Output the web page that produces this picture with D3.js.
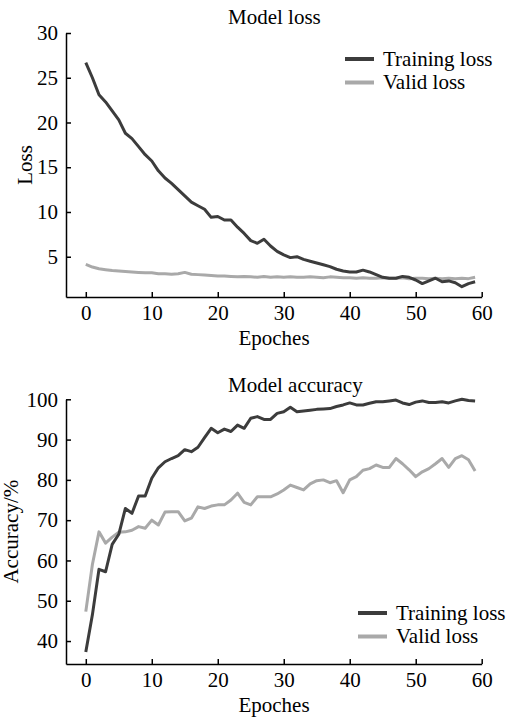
<!DOCTYPE html>
<html>
<head>
<meta charset="utf-8">
<script src="https://cdn.jsdelivr.net/npm/d3@7"></script>
<style>
	body { margin: 0; background: #fff; }
	svg text { font-family: "Liberation Serif", "Times New Roman", serif; font-size: 21px; fill: #000; }
</style>
</head>
<body>
<div id="chart"></div>
<script>
// epochs 0..59
var epochs = d3.range( 0, 60 );

var trainLoss = [ 26.7, 25.0, 23.1, 22.3, 21.3, 20.3, 18.8, 18.2, 17.3, 16.4,
	15.7, 14.6, 13.8, 13.2, 12.5, 11.8, 11.1, 10.7, 10.3, 9.4,
	9.5, 9.1, 9.1, 8.3, 7.6, 6.8, 6.5, 6.95, 6.2, 5.6,
	5.2, 4.9, 5.0, 4.7, 4.5, 4.3, 4.1, 3.9, 3.6, 3.4,
	3.3, 3.3, 3.5, 3.3, 3.0, 2.7, 2.6, 2.6, 2.8, 2.7,
	2.4, 2.0, 2.3, 2.6, 2.2, 2.3, 2.1, 1.65, 2.0, 2.2 ];

var validLoss = [ 4.15, 3.85, 3.65, 3.55, 3.45, 3.4, 3.35, 3.3, 3.25, 3.2,
	3.2, 3.1, 3.1, 3.05, 3.1, 3.25, 3.05, 3.0, 2.95, 2.9,
	2.85, 2.85, 2.8, 2.75, 2.8, 2.75, 2.7, 2.8, 2.7, 2.75,
	2.7, 2.75, 2.7, 2.7, 2.75, 2.7, 2.65, 2.75, 2.7, 2.65,
	2.65, 2.6, 2.65, 2.6, 2.6, 2.65, 2.6, 2.6, 2.65, 2.55,
	2.6, 2.6, 2.55, 2.6, 2.55, 2.6, 2.55, 2.6, 2.55, 2.7 ];

var trainAcc = [ 37.3, 46.5, 57.8, 57.2, 64, 66.5, 72.9, 71.7, 76, 76,
	80.4, 83, 84.5, 85.3, 86, 87.5, 87, 88.1, 90.5, 92.8,
	91.7, 92.6, 92, 93.6, 92.8, 95.3, 95.7, 95, 95, 96.5,
	96.9, 98, 96.9, 97.1, 97.3, 97.5, 97.6, 97.7, 98.2, 98.6,
	99.1, 98.6, 98.6, 99.0, 99.4, 99.4, 99.6, 99.8, 99.1, 98.7,
	99.3, 99.6, 99.2, 99.2, 99.4, 99.1, 99.6, 100, 99.7, 99.6 ];

var validAcc = [ 47.3, 59, 67.1, 64.3, 65.8, 67, 67.1, 67.5, 68.4, 68,
	70, 68.8, 72, 72.1, 72.1, 69.8, 70.5, 73.3, 72.9, 73.5,
	73.8, 73.8, 75, 76.7, 74.4, 73.8, 75.8, 75.8, 75.8, 76.5,
	77.5, 78.7, 78.1, 77.5, 79, 79.8, 80, 79.3, 79.8, 76.8,
	80, 80.8, 82.4, 82.8, 83.7, 83.1, 83.1, 85.3, 84, 82.5,
	80.8, 82, 82.8, 84, 85.3, 83.1, 85.3, 86, 85, 82.2 ];

var xTicks = [ 0, 10, 20, 30, 40, 50, 60 ];
var lossTicks = [ 5, 10, 15, 20, 25, 30 ];
var accTicks = [ 40, 50, 60, 70, 80, 90, 100 ];
var seriesNames = [ "Training loss", "Valid loss" ];
var seriesColors = [ "#3c3c3c", "#a9a9a9" ];

var svg = d3.select( "#chart" ).append( "svg" )
	.attr( "width", 513 )
	.attr( "height", 720 );

function drawPanel( opt )
{
	var g = svg.append( "g" );

	var x = d3.scaleLinear().domain( [ -3, 60 ] ).range( [ 66, 481.7 ] );
	var y = d3.scaleLinear().domain( opt.yDomain ).range( [ opt.bottom, opt.top ] );

	// lines first, axes drawn on top
	var line = d3.line()
		.x( function ( d, i ) { return x( epochs[ i ] ); } )
		.y( function ( d ) { return y( d ); } );

	[ opt.valid, opt.train ].forEach( function ( s, k )
	{
		g.append( "path" )
			.datum( s )
			.attr( "fill", "none" )
			.attr( "stroke", k === 0 ? seriesColors[ 1 ] : seriesColors[ 0 ] )
			.attr( "stroke-width", 3 )
			.attr( "stroke-linejoin", "round" )
			.attr( "d", line );
	} );

	var xAxis = g.append( "g" )
		.attr( "transform", "translate(0," + opt.bottom + ")" )
		.call( d3.axisBottom( x ).tickValues( xTicks ).tickSize( -5 ).tickSizeOuter( 0 ).tickPadding( 8 ) );

	var yAxis = g.append( "g" )
		.attr( "transform", "translate(66,0)" )
		.call( d3.axisLeft( y ).tickValues( opt.yTicks ).tickSize( -5 ).tickSizeOuter( 0 ).tickPadding( 8 ) );

	[ xAxis, yAxis ].forEach( function ( a )
	{
		a.attr( "font-family", null ).attr( "font-size", null );
		a.selectAll( "path, line" ).attr( "stroke", "#000" ).attr( "stroke-width", 1.5 );
		a.selectAll( "text" ).attr( "fill", "#000" );
	} );

	// titles and axis labels
	g.append( "text" )
		.attr( "x", 228 )
		.attr( "y", opt.titleY )
		.text( opt.title );

	g.append( "text" )
		.attr( "x", 274 )
		.attr( "y", opt.bottom + 48 )
		.attr( "text-anchor", "middle" )
		.text( "Epoches" );

	g.append( "text" )
		.attr( "transform", "translate(" + opt.yLabelX + "," + ( ( opt.top + opt.bottom ) / 2 ) + ") rotate(-90)" )
		.attr( "text-anchor", "middle" )
		.text( opt.yLabel );

	// legend
	var lg = g.append( "g" ).attr( "transform", "translate(" + opt.legend[ 0 ] + "," + opt.legend[ 1 ] + ")" );
	seriesNames.forEach( function ( name, i )
	{
		lg.append( "line" )
			.attr( "x1", 0 ).attr( "x2", 29 )
			.attr( "y1", i * 23.5 ).attr( "y2", i * 23.5 )
			.attr( "stroke", seriesColors[ i ] )
			.attr( "stroke-width", 4 );
		lg.append( "text" )
			.attr( "x", 38 )
			.attr( "y", i * 23.5 + 6.5 )
			.text( name );
	} );
}

drawPanel( {
	title: "Model loss",
	titleY: 24,
	yLabel: "Loss",
	yLabelX: 31.5,
	top: 33,
	bottom: 297,
	yDomain: [ 0.5, 30 ],
	yTicks: lossTicks,
	train: trainLoss,
	valid: validLoss,
	legend: [ 345, 59 ]
} );

drawPanel( {
	title: "Model accuracy",
	titleY: 392,
	yLabel: "Accuracy/%",
	yLabelX: 18,
	top: 399.3,
	bottom: 664,
	yDomain: [ 34.3, 100 ],
	yTicks: accTicks,
	train: trainAcc,
	valid: validAcc,
	legend: [ 358, 613 ]
} );
</script>
</body>
</html>
